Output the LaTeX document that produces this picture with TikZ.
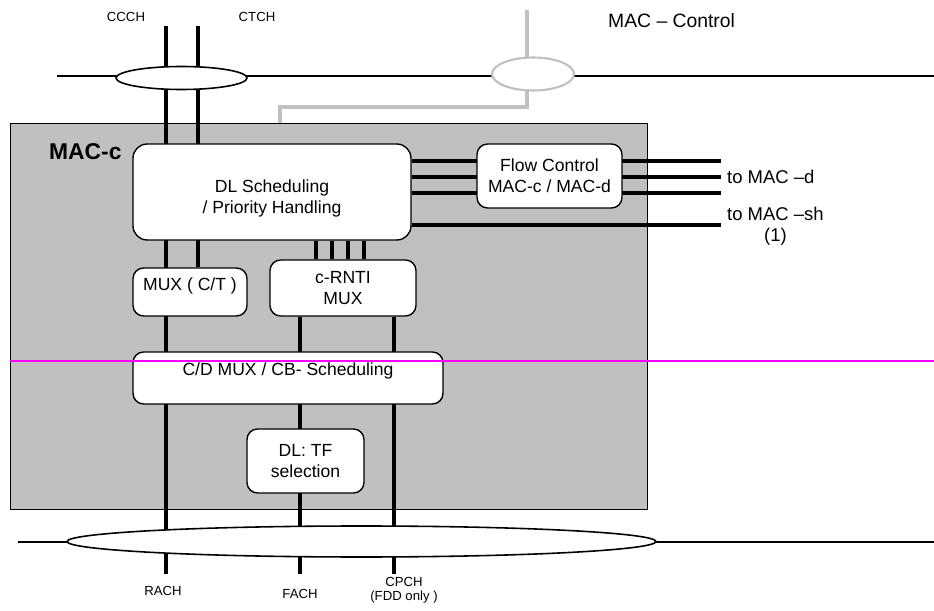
\documentclass[tikz,border=0pt]{standalone}
\usepackage{fontspec}
\setmainfont{Liberation Sans}
\usetikzlibrary{shapes.geometric}
\definecolor{macgray}{HTML}{C0C0C0}
\definecolor{cutline}{HTML}{FF00FF}
\pgfdeclarelayer{panel}
\pgfdeclarelayer{wires}
\pgfsetlayers{panel,wires,main}

\begin{document}
\begin{tikzpicture}[x=0.02cm,y=-0.02cm,
		box/.style={draw,fill=white,rounded corners=6pt,line width=0.8pt,inner sep=0pt,align=center,font=\fontsize{10}{12}\selectfont},
		boxtext/.style={align=center,font=\fontsize{10}{12}\selectfont},
		sap/.style={draw,ellipse,fill=white,line width=0.9pt,inner sep=0pt},
		chan/.style={line width=2.8pt},
		rail/.style={line width=1pt},
		ctrl/.style={draw=macgray,line width=2.2pt},
		small/.style={font=\fontsize{7.5}{8}\selectfont,align=center},
		side/.style={font=\fontsize{10.5}{12}\selectfont,align=center,anchor=west}]
		\useasboundingbox (0,0) rectangle (934,611);
		% Draws the gray MAC-c panel behind everything
		\begin{pgfonlayer}{panel}
			\node[draw,fill=macgray,line width=0.6pt,inner sep=0pt,anchor=north west,minimum width=12.74cm,minimum height=7.72cm] (macc) at (10,123) {};
		\end{pgfonlayer}
		\node[font=\bfseries\fontsize{13}{15}\selectfont,anchor=west] (macclbl) at (43,152) {MAC-c};
		% The function boxes
		\node[box,rounded corners=8pt,minimum width=5.56cm,minimum height=1.92cm,
			label={[boxtext,yshift=-3.5pt]center:{DL Scheduling\\/ Priority Handling}}] (dl) at (272,192) {};
		\node[box,minimum width=2.9cm,minimum height=1.28cm] (flow) at (549.5,176) {Flow Control\\MAC-c / MAC-d};
		\node[box,minimum width=2.28cm,minimum height=0.96cm,
			label={[boxtext,yshift=3.5pt]center:MUX ( C/T )}] (muxct) at (190,292) {};
		\node[box,minimum width=2.92cm,minimum height=1.12cm] (crnti) at (343,288) {c-RNTI\\MUX};
		\node[box,minimum width=6.2cm,minimum height=1.04cm,
			label={[boxtext,anchor=north,yshift=-3pt]north:C/D MUX / CB- Scheduling}] (cdmux) at (288,378) {};
		\node[box,minimum width=2.34cm,minimum height=1.28cm] (tf) at (305.5,461) {DL: TF\\selection};
		% The service access points as ellipses
		\node[sap,minimum width=2.62cm,minimum height=0.46cm] (topsap) at (181.5,78) {};
		\node[sap,draw=macgray,line width=1.2pt,minimum width=1.64cm,minimum height=0.66cm] (ctrlsap) at (533,74) {};
		\node[sap,minimum width=11.78cm,minimum height=0.62cm] (botsap) at (361.5,541.5) {};
		% Labels of the channels
		\node[small] (ccchlbl) at (126,17) {CCCH};
		\node[small] (ctchlbl) at (257,17) {CTCH};
		\node[small] (rachlbl) at (163,591) {RACH};
		\node[small] (fachlbl) at (300,594) {FACH};
		\node[small] (cpchlbl) at (404,590) {CPCH\\(FDD only )};
		\node[font=\fontsize{11}{13}\selectfont,anchor=west] (ctrllbl) at (602,21) {MAC – Control};
		\node[side] (tomacd) at (721,177) {to MAC –d};
		\node[side] (tomacsh) at (721,226.5) {to MAC –sh\\(1)};
		% End points of the lines
		\coordinate (ccch) at (166,26);
		\coordinate (ctch) at (198,26);
		\coordinate (rach) at (166,574);
		\coordinate (fach) at (300,574);
		\coordinate (cpch) at (394,574);
		\coordinate (macctrl) at (527,10);
		\coordinate (ctrlbend) at (280,107);
		\coordinate (topleft) at (57,76);
		\coordinate (topright) at (934,76);
		\coordinate (botleft) at (18,542);
		\coordinate (botright) at (934,542);
		\coordinate (cutright) at (934,361);
		\begin{pgfonlayer}{wires}
			% Draws the two thin layer lines
			\draw[rail] (topleft) -- (topright);
			\draw[rail] (botleft) -- (botright);
			% Draws the thick channel lines
			\draw[chan] (ccch) -- (rach);
			\draw[chan] (ctch) -- (muxct.north -| ctch);
			\foreach \x in {316,332,348,364}
				\draw[chan] (dl.south -| \x,0) -- (crnti.north -| \x,0);
			\draw[chan] (crnti.south -| fach) -- (fach);
			\draw[chan] (crnti.south -| cpch) -- (cpch);
			\foreach \y in {161,177,193}
				\draw[chan] (dl.east |- 0,\y) -- (tomacd.west |- 0,\y);
			\draw[chan] (dl.east |- 0,225) -- (tomacsh.west |- 0,225);
			% Draws the gray control path into MAC-c
			\draw[ctrl] (macctrl) |- (ctrlbend) -- (ctrlbend |- macc.north);
		\end{pgfonlayer}
		% Draws the magenta line on top
		\draw[cutline,line width=1.2pt] (macc.west |- cutright) -- (cutright);
	\end{tikzpicture}
\end{document}
